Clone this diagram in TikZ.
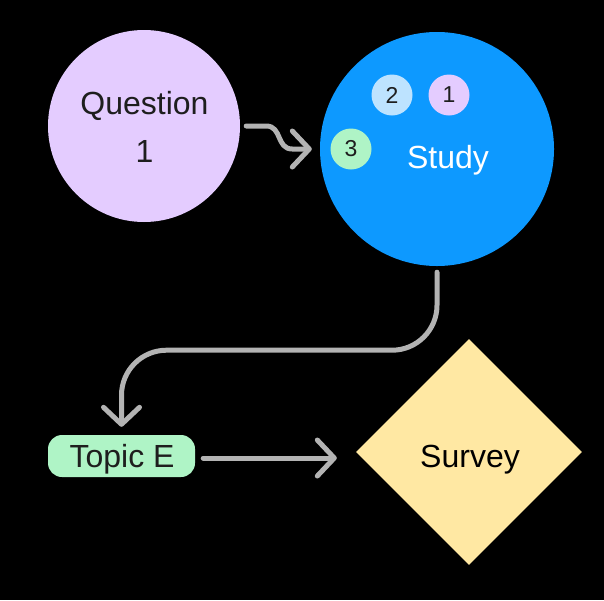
\documentclass[tikz,border=0pt]{standalone}
\usepackage{fontspec}
\setmainfont{Liberation Sans}
\usetikzlibrary{shapes.geometric,arrows.meta,calc}
\definecolor{lav}{HTML}{E4CCFF}
\definecolor{sblue}{HTML}{0D99FF}
\definecolor{lblue}{HTML}{BDE3FF}
\definecolor{lgreen}{HTML}{AFF4C6}
\definecolor{lyellow}{HTML}{FFE8A3}
\definecolor{cgray}{HTML}{B3B3B3}
\definecolor{txt}{HTML}{1E1E1E}
\begin{document}
\begin{tikzpicture}[x=1pt,y=-1pt,
  bigtext/.style={font=\fontsize{32}{48}\selectfont},
  lbl/.style={bigtext,anchor=base,inner sep=0pt},
  badge/.style={circle,minimum size=41pt,inner sep=0pt,text=txt,font=\fontsize{23}{26}\selectfont},
  conn/.style={draw=cgray,line width=5pt,line cap=round,line join=round,
    -{Straight Barb[length=17pt,width=36pt,round]}}]
\fill[black] (0,0) rectangle (604,600);
\useasboundingbox (0,0) rectangle (604,600);
\node[circle,fill=lav,minimum size=192pt,inner sep=0pt] (q) at (144,126) {};
\node[lbl,text=txt] (qt1) at (144.5,114) {Question};
\node[lbl,text=txt] (qt2) at (144.5,162) {1};
\node[circle,fill=sblue,minimum size=234pt,inner sep=0pt] (study) at (437,149) {};
\node[lbl,text=white] (studyt) at (448,168) {Study};
\node[badge,fill=lblue] (b2) at (392,95) {2};
\node[badge,fill=lav] (b1) at (449,95) {1};
\node[badge,fill=lgreen] (b3) at (351,149) {3};
\node[rounded corners=14pt,fill=lgreen,minimum width=147pt,minimum height=42pt,inner sep=0pt] (topic) at (121.5,456) {};
\node[lbl,text=txt] (topict) at (122,467) {Topic E};
\node[diamond,aspect=1,fill=lyellow,minimum width=226pt,minimum height=226pt,inner sep=0pt] (survey) at (469,452) {};
\node[lbl,text=black] (surveyt) at (470,467) {Survey};
\draw[conn] ($(q.east)+(6,0)$) -- ++(20,0) .. controls +(16,0) and +(-16,0) .. ++(26,23) -- ($(study.west)+(-8,0)$);
\draw[conn,rounded corners=45pt] ($(study.south)+(0,6)$) -- ($(study.south)+(0,84)$) -| ($(topic.north)+(0,-8)$);
\draw[conn] ($(topic.east)+(8,2)$) -- ($(survey.west)+(-19,6)$);
\end{tikzpicture}
\end{document}
